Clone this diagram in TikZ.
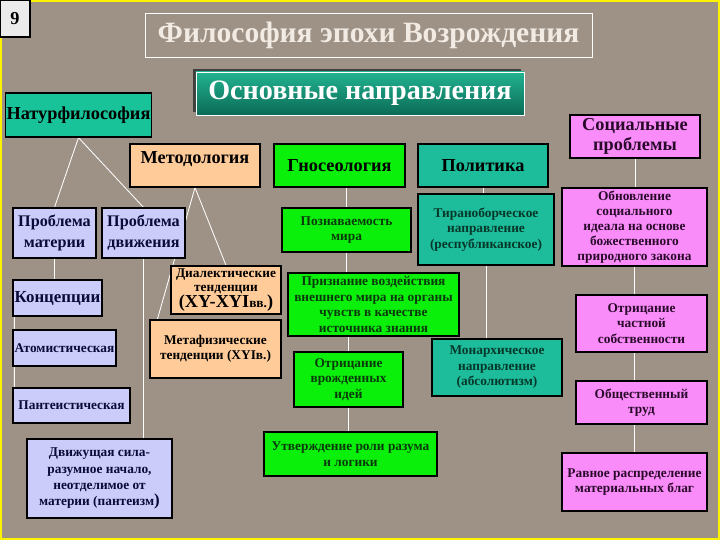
\documentclass[tikz,border=0pt]{standalone}
\usepackage{fontspec}
\setmainfont{Liberation Serif}
\usetikzlibrary{calc}
\pgfdeclarelayer{bg}
\pgfsetlayers{bg,main}
\definecolor{ground}{HTML}{9E9185}
\definecolor{natfill}{HTML}{19C39A}
\definecolor{polfill}{HTML}{1DBC9B}
\definecolor{gnofill}{HTML}{0AF00A}
\definecolor{metfill}{HTML}{FFCB99}
\definecolor{prbfill}{HTML}{CCCCFA}
\definecolor{socfill}{HTML}{FA8CFA}
\definecolor{titletext}{HTML}{F2EBE3}
\definecolor{osntop}{HTML}{22B391}
\definecolor{osnbot}{HTML}{0B6A55}
\definecolor{gnotext}{HTML}{0A3A0A}
\definecolor{poltext}{HTML}{06382A}
\definecolor{soctext}{HTML}{2A0A2A}
\definecolor{prbtext}{HTML}{0A0A3A}

\tikzset{
  block/.style={draw=black, line width=0.9pt, inner sep=1pt, align=center,
    font=\bfseries\fontsize{9.5}{11}\selectfont},
  headblock/.style={block, font=\bfseries\fontsize{13}{14}\selectfont},
  natblock/.style={fill=natfill, text=black},
  metblock/.style={fill=metfill, text=black},
  gnoblock/.style={fill=gnofill, text=gnotext},
  polblock/.style={fill=polfill, text=poltext},
  socblock/.style={fill=socfill, text=soctext},
  prbblock/.style={fill=prbfill, text=prbtext},
  link/.style={draw=white, line width=0.6pt}
}

\begin{document}
\begin{tikzpicture}[x=0.025cm, y=-0.025cm]
  \useasboundingbox (0,0) rectangle (720,540);
  \begin{pgfonlayer}{bg}
    \fill[ground] (0,0) rectangle (720,540);
    \draw[yellow, line width=1.5pt] (1,1) rectangle (719,539);
  \end{pgfonlayer}

  % header
  \node[block, fill=black!8, minimum width=0.75cm, minimum height=0.925cm,
    font=\bfseries\fontsize{13}{14}\selectfont] (num) at (15,18.5) {9};
  \node[draw=white, line width=0.4pt, minimum width=11.175cm, minimum height=1.1cm,
    text=titletext, font=\bfseries\fontsize{21}{22}\selectfont] (title) at (368.5,35)
    {Философия эпохи Возрождения};
  \node[draw=white, line width=0.6pt, top color=osntop, bottom color=osnbot,
    minimum width=8.2cm, minimum height=1.075cm, text=white,
    font=\bfseries\fontsize{20}{21}\selectfont] (osn) at (360,93.5) {Основные направления};

  % directions
  \node[headblock, natblock, minimum width=3.275cm, minimum height=1.1cm] (nat) at (78.5,115) {Натурфилософия};
  \node[headblock, metblock, minimum width=3.25cm, minimum height=1.075cm, text depth=0.42cm] (met) at (195,165.5) {Методология};
  \node[headblock, gnoblock, text=black, minimum width=3.275cm, minimum height=1.075cm] (gno) at (339.5,165.5) {Гносеология};
  \node[headblock, polblock, text=black, minimum width=3.25cm, minimum height=1.075cm] (pol) at (483,165.5) {Политика};
  \node[headblock, socblock, minimum width=3.25cm, minimum height=1.075cm] (soc) at (635,136.5) {Социальные\\проблемы};

  % natural philosophy
  \node[block, prbblock, minimum width=2.075cm, minimum height=1.25cm,
    font=\bfseries\fontsize{11.5}{15}\selectfont] (pmat) at (54.5,233) {Проблема\\материи};
  \node[block, prbblock, minimum width=2.075cm, minimum height=1.25cm,
    font=\bfseries\fontsize{11.5}{15}\selectfont] (pmov) at (143.5,233) {Проблема\\движения};
  \node[block, prbblock, minimum width=2.225cm, minimum height=0.9cm,
    font=\bfseries\fontsize{12}{14}\selectfont] (konc) at (57.5,298) {Концепции};
  \node[block, prbblock, minimum width=2.575cm, minimum height=0.9cm] (atom) at (64.5,348) {Атомистическая};
  \node[block, prbblock, minimum width=2.925cm, minimum height=0.875cm] (pant) at (71.5,405.5) {Пантеистическая};
  \node[block, prbblock, minimum width=3.625cm, minimum height=1.975cm,
    font=\bfseries\fontsize{9.5}{11.5}\selectfont] (dvig) at (99.5,478.5)
    {Движущая сила-\\разумное начало,\\неотделимое от\\материи (пантеизм{\fontsize{12}{12}\selectfont)}};

  % methodology
  \node[block, metblock, minimum width=2.75cm, minimum height=1.2cm,
    font=\bfseries\fontsize{9.5}{9.8}\selectfont] (dial) at (226,290)
    {Диалектические\\тенденции\\{\fontsize{13}{13}\selectfont(XY-XYI}вв.{\fontsize{13}{13}\selectfont)}};
  \node[block, metblock, minimum width=3.275cm, minimum height=1.45cm] (metaf) at (215.5,349)
    {Метафизические\\тенденции (XYIв.)};

  % gnoseology
  \node[block, gnoblock, minimum width=3.225cm, minimum height=1.1cm] (pozn) at (346.5,230) {Познаваемость\\мира};
  \node[block, gnoblock, minimum width=4.275cm, minimum height=1.575cm] (priz) at (373.5,304.5)
    {Признание воздействия\\внешнего мира на органы\\чувств в качестве\\источника знания};
  \node[block, gnoblock, minimum width=2.725cm, minimum height=1.375cm] (otrv) at (348.5,379.5)
    {Отрицание\\врожденных\\идей};
  \node[block, gnoblock, minimum width=4.325cm, minimum height=1.1cm] (utv) at (350.5,454)
    {Утверждение роли разума\\и логики};

  % politics
  \node[block, polblock, minimum width=3.4cm, minimum height=1.775cm] (tyr) at (486,229.5)
    {Тираноборческое\\направление\\(республиканское)};
  \node[block, polblock, minimum width=3.25cm, minimum height=1.425cm] (mon) at (497,367.5)
    {Монархическое\\направление\\(абсолютизм)};

  % social problems
  \node[block, socblock, minimum width=3.625cm, minimum height=1.95cm,
    font=\bfseries\fontsize{9.5}{10.7}\selectfont] (obn) at (634.5,227)
    {Обновление\\социального\\идеала на основе\\божественного\\природного закона};
  \node[block, socblock, minimum width=3.275cm, minimum height=1.425cm] (otch) at (641.5,323.5)
    {Отрицание\\частной\\собственности};
  \node[block, socblock, minimum width=3.275cm, minimum height=1.075cm] (obsh) at (641.5,402.5)
    {Общественный\\труд};
  \node[block, socblock, minimum width=3.625cm, minimum height=1.45cm] (rav) at (634.5,482)
    {Равное распределение\\материальных благ};

  \begin{pgfonlayer}{bg}
    \fill[black!75] ($(osn.north west)+(-3,-3)$) rectangle ($(osn.south east)+(-3,-3)$);
    \draw[link] (nat.south) -- (pmat.north);
    \draw[link] (nat.south) -- (pmov.north);
    \draw[link] (met.south) -- (dial.north);
    \draw[link] (met.south) -- ($(metaf.north west)+(8,0)$);
    \draw[link] (pmat.south) -- (pmat.south |- konc.north);
    \draw[link] ($(konc.south west)+(2,0)$) -- ($(pant.north west)+(2,0)$);
    \draw[link] (pmov.south) -- (pmov.south |- dvig.north);
    \draw[link] (pozn.north |- gno.south) -- (pozn.north);
    \draw[link] (pozn.south) -- (pozn.south |- priz.north);
    \draw[link] (otrv.north |- priz.south) -- (otrv.north);
    \draw[link] (otrv.south) -- (otrv.south |- utv.north);
    \draw[link] (pol.south) -- (pol.south |- tyr.north);
    \draw[link] (tyr.south) -- (tyr.south |- mon.north);
    \draw[link] (soc.south) -- (soc.south |- obn.north);
    \draw[link] (obn.south) -- (obn.south |- otch.north);
    \draw[link] (obn.south |- otch.south) -- (obn.south |- obsh.north);
    \draw[link] (obn.south |- obsh.south) -- (rav.north);
  \end{pgfonlayer}
\end{tikzpicture}
\end{document}
